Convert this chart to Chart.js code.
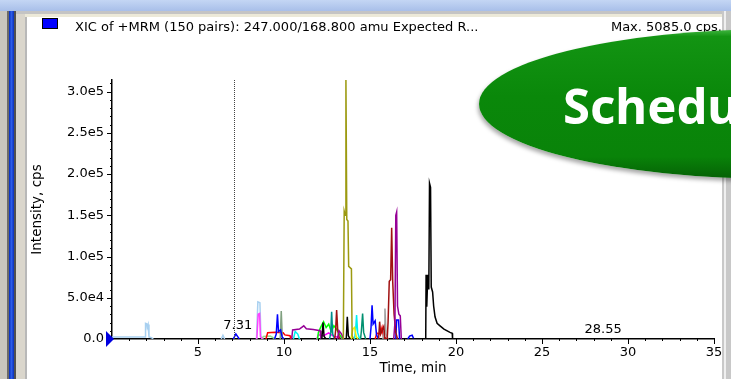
<!DOCTYPE html>
<html>
<head>
<meta charset="utf-8">
<script src="https://cdn.jsdelivr.net/npm/chart.js@4.4.1/dist/chart.umd.min.js"></script>
<style>
  html, body { margin: 0; padding: 0; width: 731px; height: 379px; overflow: hidden; background: #d4d0c8; }
  .blk { position: absolute; }
  #panel { left: 27px; top: 17px; width: 695px; height: 362px; background: #fff; }
  #chart { position: absolute; left: 0; top: 0; }
  #legendBox { left: 42px; top: 18px; width: 14px; height: 9px; background: #0000ff; border: 1px solid #000; }
  .txt { position: absolute; font-family: "DejaVu Sans", sans-serif; font-size: 13px; line-height: 14px; color: #000; white-space: nowrap; }
  #oval { left: 479px; top: 29px; width: 600px; height: 150px; border-radius: 50%;
          background: linear-gradient(to bottom, #45b845 0%, #139413 5%, #0a880a 45%, #098309 85%, #056005 100%);
          box-shadow: -1px 3px 4px rgba(0,0,0,0.35); }
  #ovalText { position: absolute; left: 563px; top: 81px; font-family: "Noto Sans", sans-serif; font-weight: bold;
              font-size: 49px; line-height: 49px; color: #fff; white-space: nowrap; }
</style>
</head>
<body>
<div class="blk" style="left:0;top:0;width:731px;height:11px;background:linear-gradient(#c4d6f4,#a8bfe9);"></div>
<div class="blk" style="left:0;top:11px;width:7px;height:368px;background:#c9c6bd;"></div>
<div class="blk" style="left:7px;top:11px;width:2px;height:368px;background:#6d6b66;"></div>
<div class="blk" style="left:9px;top:11px;width:5px;height:368px;background:linear-gradient(to right,#0a2fb8,#2c5ce8,#0a2fb8);"></div>
<div class="blk" style="left:14px;top:11px;width:2px;height:368px;background:#505050;"></div>
<div class="blk" style="left:16px;top:11px;width:9px;height:368px;background:#dad6cc;"></div>
<div class="blk" style="left:25px;top:11px;width:2px;height:368px;background:#b8b8b8;"></div>
<div class="blk" style="left:16px;top:11px;width:715px;height:3px;background:#c4c4c4;"></div>
<div class="blk" style="left:25px;top:14px;width:697px;height:3px;background:#ece9d8;"></div>
<div class="blk" style="left:722px;top:11px;width:9px;height:368px;background:#c8c8c8;"></div>
<div class="blk" style="left:724px;top:11px;width:2px;height:368px;background:#efefef;"></div>
<div class="blk" id="panel"></div>

<canvas id="chart" width="731" height="379"></canvas>

<div class="blk" id="legendBox"></div>
<div class="txt" style="left:75px;top:20px;">XIC of +MRM (150 pairs): 247.000/168.800 amu Expected R...</div>
<div class="txt" style="right:9px;top:20px;">Max. 5085.0 cps.</div>
<div class="blk" id="oval"></div>
<div id="ovalText">Schedu</div>

<script>
// [time (min), intensity (cps)]; null breaks the trace
const lightBlue = [[0,2500],[1.92,2500],[1.95,19000],[2.02,18500],[2.05,14000],[2.1,17500],[2.15,2500],[2.3,1500],[2.4,0],[2.4,null],
  [6.35,0],[6.45,4500],[6.55,0],[6.55,null],[8.4,0],[8.48,45000],[8.6,44000],[8.66,2000],[8.8,0]];
const blue = [[7.05,0],[7.2,6000],[7.32,2500],[7.4,0],[7.4,null],[9.45,0],[9.55,6000],[9.62,30000],[9.68,9000],[9.8,11000],[9.9,2000],[10.0,0],[10.0,null],
  [15.0,0],[15.06,14000],[15.12,41000],[15.18,18000],[15.3,22000],[15.38,5000],[15.5,0],[15.5,null],
  [16.5,0],[16.55,23000],[16.66,23000],[16.72,0],[16.72,null],[17.2,0],[17.3,3500],[17.45,4500],[17.55,0]];
const pink = [[8.42,0],[8.5,30000],[8.58,31000],[8.63,3000],[8.75,0]];
const magenta = [[11.9,0],[12.0,5000],[12.3,4000],[12.6,7500],[12.9,3000],[13.3,2000],[13.4,0]];
const red = [[8.95,0],[9.05,7500],[9.5,8200],[9.95,7500],[10.05,5000],[10.35,4000],[10.4,0],[10.4,null],
  [15.3,0],[15.4,7000],[15.6,6000],[15.7,14000],[15.78,3000],[15.9,0]];
const darkRed = [[12.95,0],[13.0,10000],[13.06,35000],[13.12,12000],[13.22,0],[13.22,null],
  [15.5,0],[15.56,21000],[15.62,6000],[15.8,15000],[15.86,2000],[15.95,0],[15.95,null],
  [16.0,0],[16.05,20000],[16.12,70000],[16.2,72000],[16.26,135000],[16.32,70000],[16.4,30000],[16.5,8000],[16.6,0]];
const purple = [[10.45,0],[10.5,11000],[10.9,12000],[11.15,16000],[11.3,12500],[11.7,11500],[12.1,10000],[12.15,0],[12.15,null],
  [13.1,0],[13.2,10000],[13.35,6000],[13.45,0],[13.45,null],
  [16.38,0],[16.45,20000],[16.5,150000],[16.55,154000],[16.6,40000],[16.68,30000],[16.76,28000],[16.82,0]];
const green = [[11.95,0],[12.0,8000],[12.15,15000],[12.3,21000],[12.45,14000],[12.6,18000],[12.75,9000],[12.9,16000],[13.05,12000],[13.25,5000],[13.4,0]];
const lightGreen = [[8.7,0],[8.8,3000],[9.2,3500],[9.5,0]];
const sage = [[9.78,0],[9.84,34000],[9.9,2000],[10.0,0]];
const teal = [[12.65,0],[12.72,8000],[12.77,33000],[12.83,6000],[12.95,0]];
const seaGreen = [[14.45,0],[14.5,10000],[14.57,31000],[14.63,8000],[14.75,0]];
const cyan = [[10.55,0],[10.65,9000],[10.8,6000],[10.9,0],[10.9,null],[14.1,0],[14.17,12000],[14.22,29000],[14.28,8000],[14.4,0]];
const yellow = [[13.9,0],[14.0,12000],[14.1,14000],[14.2,3000],[14.3,0]];
const gray = [[15.75,0],[15.82,10000],[15.87,37000],[15.93,6000],[16.05,0]];
const olive = [[13.45,0],[13.5,155000],[13.56,150000],[13.6,316000],[13.65,145000],[13.72,143000],[13.76,88000],[13.92,85000],[13.96,4000],[14.05,0]];
const black = [[12.2,0],[12.27,20000],[12.33,3000],[12.45,0],[12.45,null],[13.62,0],[13.68,27000],[13.74,4000],[13.85,0],[13.85,null],
  [17.5,0],[18.24,0],[18.26,78000],[18.3,39000],[18.36,78000],[18.42,60000],[18.46,189000],[18.52,184000],[18.56,63000],[18.64,57000],
  [18.7,40000],[18.78,27000],[18.9,19000],[19.07,16000],[19.3,12000],[19.65,8000],[19.78,7000],[19.8,0],[20.0,0]];

const xTicks = [5, 10, 15, 20, 25, 30, 35];
const yTicks = [0, 50000, 100000, 150000, 200000, 250000, 300000];
const yTickLabels = ["0.0", "5.0e4", "1.0e5", "1.5e5", "2.0e5", "2.5e5", "3.0e5"];

const cursorTime = 7.1;
const peakLabels = [[7.31, 329], [28.55, 333]];

// first entry is drawn on top
const traces = [
  [black, "#000000"], [olive, "#9c9a10"], [purple, "#960096"], [darkRed, "#a01010"], [blue, "#0000ff"],
  [gray, "#a0a0a0"], [yellow, "#f0f000"], [cyan, "#00f0f0"], [seaGreen, "#009070"], [teal, "#008b8b"],
  [sage, "#80a080"], [green, "#00ff00"], [red, "#ff0000"], [magenta, "#ff00ff"], [pink, "#ff40ff"],
  [lightGreen, "#90e090"], [lightBlue, "#a8d0f0"]
];

const font = { family: "DejaVu Sans", size: 13 };
const titleFont = { family: "DejaVu Sans", size: 13.5 };

const extras = {
  id: "extras",
  afterDraw(chart) {
    const { ctx, chartArea: a, scales: { x, y } } = chart;
    ctx.save();
    ctx.strokeStyle = "#000";
    ctx.lineWidth = 1;
    ctx.beginPath();
    for (let t = 1; t <= 35; t++) {
      const px = Math.round(x.getPixelForValue(t)) + 0.5;
      ctx.moveTo(px, a.bottom);
      ctx.lineTo(px, a.bottom + (t % 5 === 0 ? 5 : 2));
    }
    for (let v = 10000; v <= 310000; v += 10000) {
      const py = Math.round(y.getPixelForValue(v)) + 0.5;
      ctx.moveTo(a.left, py);
      ctx.lineTo(a.left - (v % 50000 === 0 ? 5 : 2), py);
    }
    ctx.stroke();

    // cursor line
    const cx = Math.round(x.getPixelForValue(cursorTime)) + 0.5;
    ctx.strokeStyle = "#444";
    ctx.setLineDash([1, 1]);
    ctx.beginPath();
    ctx.moveTo(cx, a.top);
    ctx.lineTo(cx, a.bottom);
    ctx.stroke();
    ctx.setLineDash([]);

    // start marker
    const oy = y.getPixelForValue(0);
    ctx.fillStyle = "#0000e0";
    ctx.beginPath();
    ctx.moveTo(a.left - 6, oy - 8);
    ctx.lineTo(a.left + 2, oy);
    ctx.lineTo(a.left - 6, oy + 8);
    ctx.closePath();
    ctx.fill();

    ctx.fillStyle = "#000";
    ctx.font = "13px 'DejaVu Sans'";
    ctx.textAlign = "center";
    ctx.textBaseline = "alphabetic";
    peakLabels.forEach(p => ctx.fillText(p[0].toFixed(2), x.getPixelForValue(p[0]), p[1]));
    ctx.restore();
  }
};

new Chart(document.getElementById("chart"), {
  type: "line",
  data: {
    datasets: traces.map(tr => ({
      data: tr[0].map(p => ({ x: p[0], y: p[1] })),
      borderColor: tr[1],
      borderWidth: 1.5,
      pointRadius: 0,
      tension: 0,
      fill: false,
      spanGaps: false
    }))
  },
  options: {
    responsive: false,
    animation: false,
    devicePixelRatio: 1,
    layout: { padding: { left: 20, right: 17, top: 80, bottom: 0 } },
    plugins: { legend: { display: false }, tooltip: { enabled: false } },
    scales: {
      x: {
        type: "linear",
        min: 0,
        max: 35,
        grid: { display: false, drawTicks: false },
        border: { color: "#000", width: 1.5 },
        afterBuildTicks: s => { s.ticks = xTicks.map(v => ({ value: v })); },
        ticks: { padding: 6, color: "#000", font: font, maxRotation: 0, autoSkip: false },
        title: { display: true, text: "Time, min", color: "#000", font: titleFont, padding: { top: 0, bottom: 2 } },
        afterFit: s => { s.height = 40; }
      },
      y: {
        min: 0,
        max: 314000,
        grid: { display: false, drawTicks: false },
        border: { color: "#000", width: 1.5 },
        afterBuildTicks: s => { s.ticks = yTicks.map(v => ({ value: v })); },
        ticks: {
          padding: 8, color: "#000", font: font, autoSkip: false,
          callback: (v, i) => yTickLabels[i]
        },
        title: { display: true, text: "Intensity, cps", color: "#000", font: titleFont, padding: { top: 9, bottom: 0 } },
        afterFit: s => { s.width = 92; }
      }
    }
  },
  plugins: [extras]
});
</script>
</body>
</html>
